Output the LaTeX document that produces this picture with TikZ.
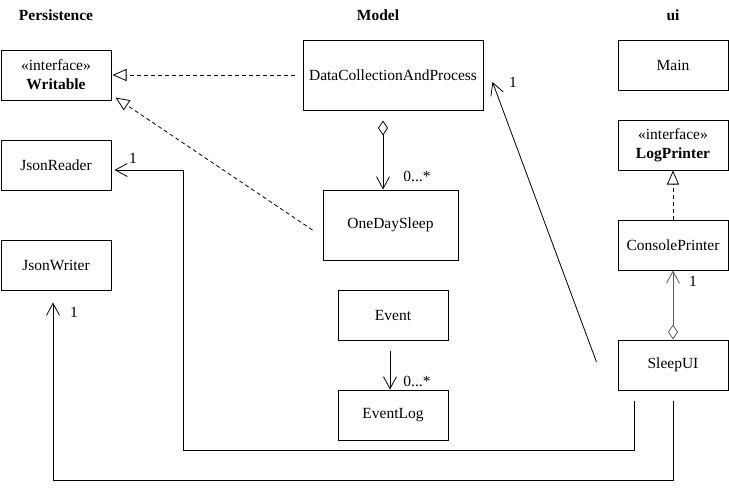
\documentclass[tikz,border=0pt]{standalone}
\usepackage{fontspec}
\setmainfont{Liberation Serif}
\usetikzlibrary{positioning, calc, arrows.meta}

\begin{document}
\begin{tikzpicture}
		[x=1pt, y=-1pt, line width=0.8pt, font=\fontsize{15.5}{19}\selectfont,
		 cls/.style={draw, line width=1pt, minimum width=110pt, minimum height=50pt, inner sep=0pt, align=center},
		 impl/.style={dash pattern=on 4pt off 3pt, -{Triangle[open, length=14pt, width=12pt]}},
		 assoc/.style={-{Straight Barb[length=12pt, width=13pt]}},
		 agg/.style={{Diamond[open, length=15pt, width=10pt]}-{Straight Barb[length=12pt, width=13pt]}}]
		\useasboundingbox (0,0) rectangle (729,496);
		
		\node (persistence) at (56,15) {\textbf{Persistence}};
		\node (model) at (378,15) {\textbf{Model}};
		\node (ui) at (673,15) {\textbf{ui}};
		
		\node[cls] (writable) at (56,75) {«interface»\\\textbf{Writable}};
		\node[cls] (reader) at (56,165) {JsonReader};
		\node[cls] (writer) at (56,265) {JsonWriter};
		\node[cls, minimum width=180pt, minimum height=70pt] (dcap) at (393,75) {DataCollectionAndProcess};
		\node[cls, minimum width=135pt, minimum height=70pt] (day) at (390.5,225) {OneDaySleep};
		\node[cls] (event) at (393,315) {Event};
		\node[cls] (log) at (393,415) {EventLog};
		\node[cls] (main) at (673,65) {Main};
		\node[cls] (printer) at (673,145) {«interface»\\\textbf{LogPrinter}};
		\node[cls] (console) at (673,245) {ConsolePrinter};
		\node[cls] (sleepui) at (673,365) {SleepUI};
		
		\draw[impl] ([xshift=-8pt]dcap.west) -- ([xshift=1pt]writable.east);
		\draw[impl] ([xshift=-10pt,yshift=-5pt]day.west) -- ([xshift=4pt,yshift=3pt]writable.south east);
		\draw[agg] ([xshift=-10pt,yshift=-10pt]dcap.south) -- ([xshift=-7.5pt]day.north);
		\node at (417,176) {0...*};
		\draw[assoc] ([xshift=-3pt,yshift=-10pt]event.south) -- ([xshift=-3pt]log.north);
		\node at (417,381) {0...*};
		\draw[assoc] ([xshift=-21pt,yshift=3pt]sleepui.west) -- ([xshift=9pt,yshift=-7pt]dcap.east);
		\node at (513,82) {1};
		\draw[agg, draw=black!65] (sleepui.north) -- (console.south);
		\node at (693,281) {1};
		\draw[impl] (console.north) -- (printer.south);
		\draw[assoc] ([xshift=-39pt,yshift=-10pt]sleepui.south) -- ++(0,50) -- ++(-451,0) |- ([xshift=3pt,yshift=-5pt]reader.east);
		\node at (133,158) {1};
		\draw[assoc] ([yshift=-10pt]sleepui.south) -- ++(0,80) -| ([xshift=-3pt,yshift=-12pt]writer.south);
		\node at (74,312) {1};
	\end{tikzpicture}
\end{document}
